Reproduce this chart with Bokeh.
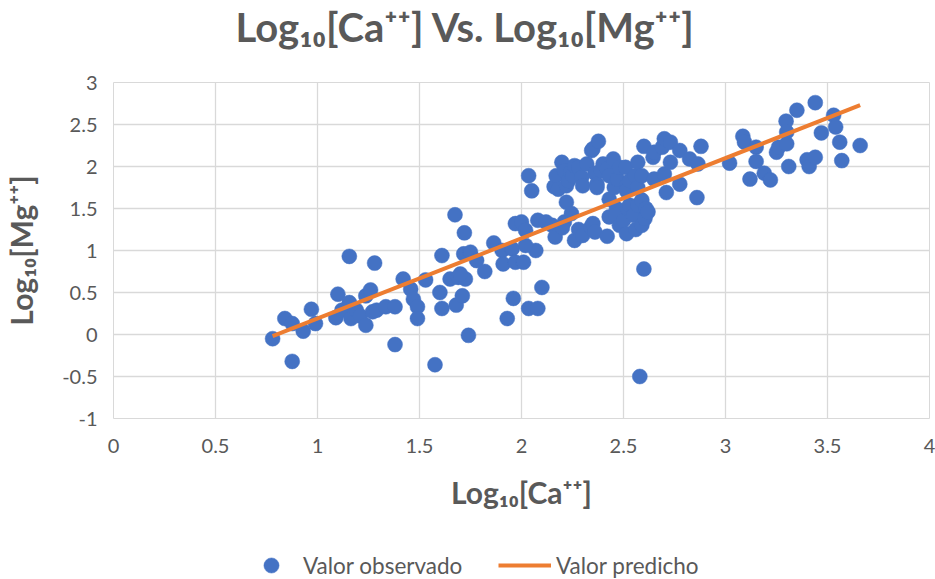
from bokeh.plotting import figure
from bokeh.models import Legend, LegendItem, FixedTicker, Range1d
from bokeh.layouts import column
from bokeh.embed import file_html
from bokeh.resources import INLINE

# Observed log10 concentrations
ca_obs = [
    0.78, 0.84, 0.876, 0.876, 0.93, 0.97, 0.99, 1.09, 1.10, 1.12, 1.156, 1.156, 1.164, 1.19,
    1.21, 1.237, 1.237, 1.26, 1.28, 1.27, 1.29, 1.335, 1.38, 1.38, 1.42, 1.457, 1.47, 1.49,
    1.49, 1.53, 1.576, 1.60, 1.61, 1.61, 1.65, 1.674, 1.68, 1.69, 1.71, 1.72, 1.717, 1.725,
    1.70, 1.74, 1.75, 1.78, 1.82, 1.864, 1.905, 1.91, 1.93, 1.954, 1.96, 1.97, 1.97, 2.00,
    2.01, 2.02, 2.035, 2.07, 2.08, 2.10, 2.05, 2.035, 2.02,
    2.08, 2.12, 2.15, 2.165, 2.21, 2.20, 2.22, 2.245, 2.26, 2.28, 2.30, 2.34, 2.35, 2.36,
    2.42, 2.43, 2.43, 2.466, 2.46, 2.48, 2.50, 2.515, 2.52, 2.54, 2.53, 2.55, 2.56, 2.57,
    2.59, 2.59, 2.605, 2.61, 2.62, 2.60, 2.58,
    2.16, 2.17, 2.18, 2.198, 2.21, 2.22, 2.23, 2.24, 2.25, 2.26, 2.28, 2.295, 2.30, 2.32,
    2.344, 2.35, 2.36, 2.37, 2.37, 2.377, 2.39, 2.40, 2.42, 2.43, 2.45, 2.455, 2.47, 2.48,
    2.51, 2.515, 2.515, 2.53, 2.557, 2.57, 2.57, 2.59, 2.60, 2.645, 2.65, 2.65, 2.69, 2.70,
    2.70, 2.71, 2.73, 2.73, 2.776, 2.776, 2.824, 2.865, 2.88, 2.86,
    3.02, 3.085, 3.093, 3.12, 3.15, 3.15, 3.19, 3.22, 3.25, 3.26, 3.297, 3.30, 3.30, 3.31,
    3.35, 3.40, 3.41, 3.44, 3.44, 3.47, 3.53, 3.54, 3.56, 3.57, 3.66,
]
mg_obs = [
    -0.05, 0.19, 0.13, -0.32, 0.04, 0.30, 0.13, 0.20, 0.48, 0.29, 0.93, 0.38, 0.19, 0.29,
    0.22, 0.11, 0.46, 0.53, 0.85, 0.27, 0.29, 0.33, 0.33, -0.12, 0.66, 0.54, 0.42, 0.33,
    0.19, 0.65, -0.36, 0.50, 0.94, 0.31, 0.66, 1.425, 0.35, 0.68, 0.46, 1.21, 0.96, 0.66,
    0.72, -0.01, 0.98, 0.88, 0.75, 1.09, 1.00, 0.84, 0.19, 1.02, 0.43, 1.32, 0.86, 1.34,
    0.86, 1.24, 0.31, 1.00, 0.31, 0.56, 1.71, 1.89, 1.06,
    1.36, 1.34, 1.30, 1.16, 1.34, 1.27, 1.575, 1.44, 1.12, 1.25, 1.18, 1.28, 1.32, 1.22,
    1.17, 1.40, 1.61, 1.50, 1.42, 1.30, 1.36, 1.20, 1.50, 1.48, 1.54, 1.42, 1.25, 1.54,
    1.30, 1.60, 1.38, 1.50, 1.46, 0.78, -0.50,
    1.76, 1.89, 1.73, 2.05, 1.95, 1.77, 1.83, 1.93, 1.89, 2.01, 1.99, 1.87, 1.77, 2.03,
    2.19, 2.21, 1.92, 1.79, 1.75, 2.30, 1.95, 2.03, 1.97, 1.89, 2.09, 1.75, 1.85, 1.99,
    1.99, 1.77, 1.71, 1.83, 1.89, 2.05, 1.75, 1.89, 2.24, 2.11, 2.17, 1.85, 2.23, 2.33,
    1.91, 1.69, 2.29, 2.05, 2.19, 1.79, 2.09, 2.03, 2.24, 1.63,
    2.04, 2.36, 2.29, 1.85, 2.23, 2.06, 1.92, 1.84, 2.17, 2.23, 2.54, 2.41, 2.27, 2.00,
    2.67, 2.08, 2.00, 2.76, 2.11, 2.40, 2.61, 2.47, 2.29, 2.07, 2.25,
]

# Fitted (predicted) line, endpoints at the smallest and largest observed Ca
pred_ca = [0.78, 3.66]
pred_mg = [-0.02, 2.73]

x_ticks = [0, 0.5, 1, 1.5, 2, 2.5, 3, 3.5, 4]
x_tick_labels = ["0", "0.5", "1", "1.5", "2", "2.5", "3", "3.5", "4"]
y_ticks = [-1, -0.5, 0, 0.5, 1, 1.5, 2, 2.5, 3]
y_tick_labels = ["-1", "-0.5", "0", "0.5", "1", "1.5", "2", "2.5", "3"]

title_text = "Log₁₀[Ca⁺⁺] Vs. Log₁₀[Mg⁺⁺]"
x_title = "Log₁₀[Ca⁺⁺]"
y_title = "Log₁₀[Mg⁺⁺]"
series_names = ["Valor observado", "Valor predicho"]

FONT = "Lato"
GREY = "#595959"
BLUE = "#4472C4"
ORANGE = "#ED7D31"
GRID = "#d9d9d9"

W = 935
TITLE_H, LEGEND_H = 52, 43
CHART_H = 579 - TITLE_H - LEGEND_H
LEFT, RIGHT = 110, 6
TOP = 82 - TITLE_H
BOTTOM = CHART_H - (418 - TITLE_H)


def bare(fig):
    fig.grid.visible = False
    fig.outline_line_color = None
    fig.background_fill_color = "white"
    fig.border_fill_color = "white"


# ---- title strip ------------------------------------------------------------
tf = figure(width=W, height=TITLE_H, title=title_text,
            x_axis_location=None, y_axis_location=None,
            output_backend="svg", toolbar_location=None, min_border=0)
bare(tf)
tf.title.align = "left"
tf.title.offset = 122
tf.title.standoff = 0
tf.title.text_font = FONT
tf.title.text_font_size = "40px"
tf.title.text_font_style = "bold"
tf.title.text_color = GREY

# ---- main chart -------------------------------------------------------------
p = figure(width=W, height=CHART_H, title=None,
           x_range=Range1d(0, 4), y_range=Range1d(-1, 3),
           output_backend="svg", toolbar_location=None,
           min_border_left=LEFT, min_border_right=RIGHT,
           min_border_top=TOP, min_border_bottom=BOTTOM)
p.outline_line_color = GRID
p.background_fill_color = "white"
p.border_fill_color = "white"


def key(v):
    return int(v) if float(v).is_integer() else v


for ax, ticks, labels, name in ((p.xaxis[0], x_ticks, x_tick_labels, x_title),
                                (p.yaxis[0], y_ticks, y_tick_labels, y_title)):
    ax.ticker = FixedTicker(ticks=ticks)
    ax.major_label_overrides = {key(t): s for t, s in zip(ticks, labels)}
    ax.axis_line_color = None
    ax.major_tick_line_color = None
    ax.minor_tick_line_color = None
    ax.major_label_text_font = FONT
    ax.major_label_text_font_size = "20px"
    ax.major_label_text_color = GREY
    ax.axis_label = name
    ax.axis_label_text_font = FONT
    ax.axis_label_text_font_size = "30px"
    ax.axis_label_text_font_style = "bold"
    ax.axis_label_text_color = GREY
p.xaxis.major_label_standoff = 14
p.yaxis.major_label_standoff = 10
p.xaxis.axis_label_standoff = 18
p.yaxis.axis_label_standoff = 20

p.xgrid.ticker = FixedTicker(ticks=x_ticks)
p.ygrid.ticker = FixedTicker(ticks=y_ticks)
for g in (p.xgrid[0], p.ygrid[0]):
    g.grid_line_color = GRID
    g.grid_line_width = 1.3

scatter_style = dict(size=15, marker="circle", fill_color=BLUE,
                     line_color=BLUE, line_width=0.5)
line_style = dict(line_width=4, line_color=ORANGE)

p.scatter(ca_obs, mg_obs, **scatter_style)
p.line(pred_ca, pred_mg, **line_style)

# ---- legend strip under the chart --------------------------------------------
# Same series, viewed through a y-window above the data so only the legend shows.
# Its frame lines up with the chart's frame (left edge at LEFT).
lp = figure(width=W, height=LEGEND_H, title=None,
            x_range=Range1d(0, 4), y_range=Range1d(3.5, 4.0),
            x_axis_location=None, y_axis_location=None,
            output_backend="svg", toolbar_location=None, min_border=0)
bare(lp)

obs_key = lp.scatter(ca_obs, mg_obs, **scatter_style)
pred_key = lp.line(pred_ca, pred_mg, **line_style)

legend_style = dict(padding=0, margin=0, border_line_color=None,
                    background_fill_alpha=0, label_text_font=FONT,
                    label_text_font_size="22.5px", label_text_color=GREY,
                    glyph_height=38, label_height=38)
lp.add_layout(Legend(items=[LegendItem(label=series_names[0], renderers=[obs_key])],
                     location=(249 - LEFT, -5), glyph_width=38, label_standoff=13,
                     **legend_style))
lp.add_layout(Legend(items=[LegendItem(label=series_names[1], renderers=[pred_key])],
                     location=(495 - LEFT, -5), glyph_width=53, label_standoff=5,
                     **legend_style))

layout = column(tf, p, lp, spacing=0)
open("out.html", "w").write(file_html(layout, INLINE))
